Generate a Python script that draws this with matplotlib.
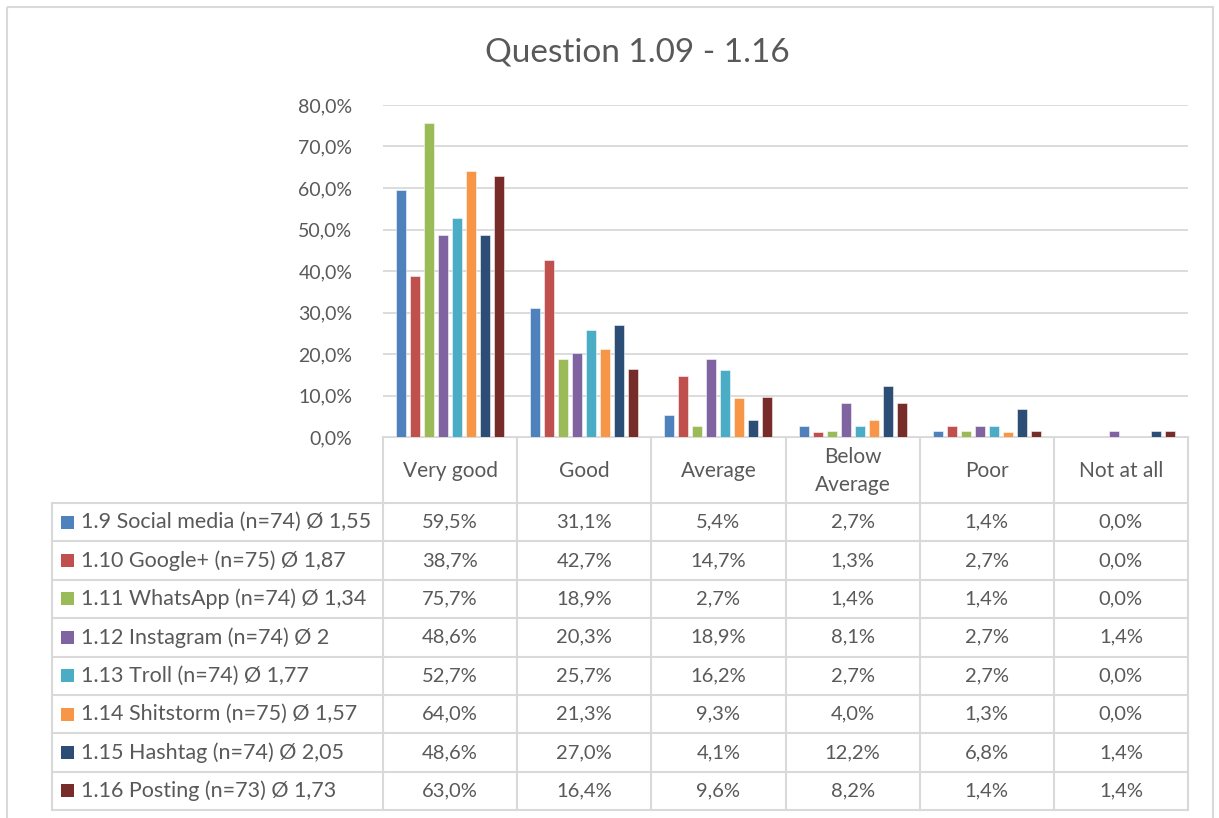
import matplotlib
matplotlib.use("Agg")
import matplotlib.pyplot as plt
from matplotlib.patches import Rectangle
from matplotlib.ticker import FuncFormatter
import numpy as np

plt.rcParams['font.family'] = ['Lato', 'DejaVu Sans']

title = "Question 1.09 - 1.16"
categories = ["Very good", "Good", "Average", "Below\nAverage", "Poor", "Not at all"]
series_names = [
    "1.9 Social media (n=74) Ø 1,55",
    "1.10 Google+ (n=75) Ø 1,87",
    "1.11 WhatsApp (n=74) Ø 1,34",
    "1.12 Instagram (n=74) Ø 2",
    "1.13 Troll (n=74) Ø 1,77",
    "1.14 Shitstorm (n=75) Ø 1,57",
    "1.15 Hashtag (n=74) Ø 2,05",
    "1.16 Posting (n=73) Ø 1,73",
]
social_media = [59.5, 31.1, 5.4, 2.7, 1.4, 0.0]
google_plus = [38.7, 42.7, 14.7, 1.3, 2.7, 0.0]
whatsapp = [75.7, 18.9, 2.7, 1.4, 1.4, 0.0]
instagram = [48.6, 20.3, 18.9, 8.1, 2.7, 1.4]
troll = [52.7, 25.7, 16.2, 2.7, 2.7, 0.0]
shitstorm = [64.0, 21.3, 9.3, 4.0, 1.3, 0.0]
hashtag = [48.6, 27.0, 4.1, 12.2, 6.8, 1.4]
posting = [63.0, 16.4, 9.6, 8.2, 1.4, 1.4]
series_values = [social_media, google_plus, whatsapp, instagram,
                 troll, shitstorm, hashtag, posting]
y_ticks = [0, 10, 20, 30, 40, 50, 60, 70, 80]

colors = ["#4F81BD", "#C0504D", "#9BBB59", "#8064A2",
          "#4BACC6", "#F79646", "#2C4D75", "#772C2A"]
text_color = "#595959"
grid_color = "#D9D9D9"

W, H = 1219, 818
fig = plt.figure(figsize=(W / 100, H / 100), dpi=100)

# Plot area geometry in pixels
px_left, px_right = 383, 1188
px_top, px_bottom = 105, 437
ax = fig.add_axes([px_left / W, 1 - px_bottom / H,
                   (px_right - px_left) / W, (px_bottom - px_top) / H])

n_cat = len(categories)
x = np.arange(n_cat)
pitch = 14 / 134.2
bar_w = 10 / 134.2
for i, (vals, col) in enumerate(zip(series_values, colors)):
    off = (i - (len(series_values) - 1) / 2) * pitch
    ax.bar(x + off, vals, width=bar_w, color=col,
           edgecolor=(1, 1, 1, 0.6), linewidth=0.6, zorder=3)

ax.set_xlim(-0.5, n_cat - 0.5)
ax.set_ylim(0, 80)
ax.set_yticks(y_ticks)
ax.yaxis.set_major_formatter(FuncFormatter(lambda v, p: f"{v:.1f}%".replace(".", ",")))
ax.tick_params(axis='y', length=0, pad=22, labelsize=14, labelcolor=text_color)
ax.set_xticks([])
ax.grid(axis='y', color=grid_color, linewidth=1.3, zorder=0)
for s in ax.spines.values():
    s.set_visible(False)

# Overlay for table, border and title in pixel coordinates
ov = fig.add_axes([0, 0, 1, 1], zorder=-1)
ov.set_xlim(0, W)
ov.set_ylim(H, 0)
ov.axis('off')

ov.add_patch(Rectangle((7, 7), 1206, 830, fill=False,
                       edgecolor=grid_color, linewidth=1.5))
ov.text(637, 53, title, ha='center', va='center',
        fontsize=24, color=text_color)

col_edges = np.linspace(px_left, px_right, n_cat + 1)
header_bottom = 503
table_bottom = 810
row_edges = np.linspace(header_bottom, table_bottom, len(series_names) + 1)
legend_left = 52
lw = 1.5

# horizontal lines
ov.plot([px_left, px_right], [px_bottom, px_bottom], color=grid_color, lw=lw)
for yy in row_edges:
    ov.plot([legend_left, px_right], [yy, yy], color=grid_color, lw=lw)
# vertical lines
for xx in col_edges:
    ov.plot([xx, xx], [px_bottom, table_bottom], color=grid_color, lw=lw)
ov.plot([legend_left, legend_left], [header_bottom, table_bottom], color=grid_color, lw=lw)

# header labels
for j, cat in enumerate(categories):
    cx = (col_edges[j] + col_edges[j + 1]) / 2
    ov.text(cx, (px_bottom + header_bottom) / 2 + 1, cat, ha='center', va='center',
            fontsize=15, color=text_color, linespacing=1.55)

# rows
for i, (name, vals, col) in enumerate(zip(series_names, series_values, colors)):
    cy = (row_edges[i] + row_edges[i + 1]) / 2
    ov.add_patch(Rectangle((61, cy - 6.5), 13, 13, facecolor=col, edgecolor='none'))
    ov.text(81, cy, name, ha='left', va='center', fontsize=15.5, color=text_color)
    for j, v in enumerate(vals):
        cx = (col_edges[j] + col_edges[j + 1]) / 2
        ov.text(cx, cy, f"{v:.1f}%".replace(".", ","), ha='center', va='center',
                fontsize=14.5, color=text_color)

fig.savefig("out.png", dpi=100)
